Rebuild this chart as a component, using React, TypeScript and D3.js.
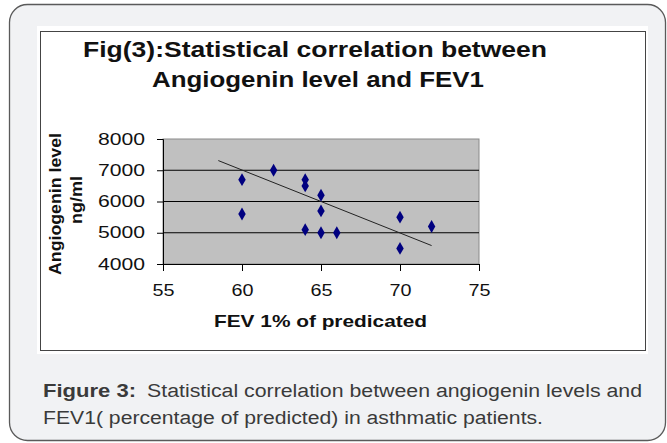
import React, { useEffect, useRef } from 'react'
import * as d3 from 'd3'

// FEV1 % of predicted vs angiogenin (ng/ml)
const fevValues = [60, 60, 62, 64, 64, 64, 65, 65, 65, 66, 70, 70, 72]
const angiogeninValues = [6700, 5600, 7000, 6700, 6500, 5100, 6200, 5700, 5000, 5000, 5500, 4500, 5200]
// trend line end points
const trendFev = [58.5, 72]
const trendAngiogenin = [7310, 4590]
const xTicks = [55, 60, 65, 70, 75]
const yTicks = [4000, 5000, 6000, 7000, 8000]
const gridLines = [5000, 6000, 7000]

const FONT = "'Liberation Sans', Arial, sans-serif"

function App() {
  const ref = useRef<SVGSVGElement>(null)

  useEffect(() => {
    const svg = d3.select(ref.current)
    svg.selectAll('*').remove()

    // outer rounded panel
    svg.append('rect')
      .attr('x', 9.5).attr('y', 4.5).attr('width', 656).attr('height', 436)
      .attr('rx', 18).attr('fill', '#f1f2f4').attr('stroke', '#5a5a5a').attr('stroke-width', 1.3)

    // inner white chart box
    svg.append('rect')
      .attr('x', 37).attr('y', 26).attr('width', 611).attr('height', 328).attr('fill', '#fff')
    svg.append('rect')
      .attr('x', 40.5).attr('y', 31.5).attr('width', 605).attr('height', 319)
      .attr('fill', 'none').attr('stroke', '#444').attr('stroke-width', 1)

    // title
    svg.append('text').attr('x', 83).attr('y', 57)
      .style('font-family', FONT).style('font-size', '22px').style('font-weight', 'bold')
      .attr('fill', '#111').attr('textLength', 464).attr('lengthAdjust', 'spacingAndGlyphs')
      .text('Fig(3):Statistical correlation between')
    svg.append('text').attr('x', 152).attr('y', 87)
      .style('font-family', FONT).style('font-size', '22px').style('font-weight', 'bold')
      .attr('fill', '#111').attr('textLength', 332).attr('lengthAdjust', 'spacingAndGlyphs')
      .text('Angiogenin level and FEV1')

    const margin = { left: 163, top: 139 }
    const w = 316, h = 125
    const x = d3.scaleLinear().domain([55, 75]).range([margin.left, margin.left + w])
    const y = d3.scaleLinear().domain([4000, 8000]).range([margin.top + h, margin.top])

    // plot area
    svg.append('rect')
      .attr('x', margin.left).attr('y', margin.top).attr('width', w).attr('height', h)
      .attr('fill', '#c0c0c0').attr('stroke', '#8a8a8a').attr('stroke-width', 1)

    svg.selectAll('.grid').data(gridLines).join('line').attr('class', 'grid')
      .attr('x1', margin.left).attr('x2', margin.left + w)
      .attr('y1', d => y(d)).attr('y2', d => y(d))
      .attr('stroke', '#000').attr('stroke-width', 1)

    // y axis
    const yAxis = svg.append('g').attr('transform', `translate(${margin.left}, 0)`)
      .call(d3.axisLeft(y).tickValues(yTicks).tickFormat(d3.format('d')).tickSize(6).tickPadding(12))
    yAxis.select('.domain').attr('stroke', '#000')
    yAxis.selectAll('text')
      .style('font-family', FONT).style('font-size', '16px').attr('fill', '#111')
      .attr('textLength', 47).attr('lengthAdjust', 'spacingAndGlyphs')

    // x axis
    const xAxis = svg.append('g').attr('transform', `translate(0, ${margin.top + h})`)
      .call(d3.axisBottom(x).tickValues(xTicks).tickSize(7).tickPadding(14))
    xAxis.select('.domain').attr('stroke', '#000')
    xAxis.selectAll('text')
      .style('font-family', FONT).style('font-size', '16px').attr('fill', '#111')
      .attr('textLength', 22).attr('lengthAdjust', 'spacingAndGlyphs')

    // trend line
    svg.append('line')
      .attr('x1', x(trendFev[0])).attr('y1', y(trendAngiogenin[0]))
      .attr('x2', x(trendFev[1])).attr('y2', y(trendAngiogenin[1]))
      .attr('stroke', '#222').attr('stroke-width', 1)

    // diamond markers
    const diamond = d3.symbol().type(d3.symbolDiamond).size(48)
    svg.selectAll('.pt').data(fevValues).join('path').attr('class', 'pt')
      .attr('d', diamond)
      .attr('transform', (d, i) => `translate(${x(d)}, ${y(angiogeninValues[i])})`)
      .attr('fill', '#000080')

    // axis titles
    svg.append('text').attr('x', 214).attr('y', 327)
      .style('font-family', FONT).style('font-size', '17px').style('font-weight', 'bold')
      .attr('fill', '#111').attr('textLength', 213).attr('lengthAdjust', 'spacingAndGlyphs')
      .text('FEV 1% of predicated')

    svg.append('text').attr('transform', 'translate(61, 204) rotate(-90)')
      .attr('text-anchor', 'middle')
      .style('font-family', FONT).style('font-size', '17px').style('font-weight', 'bold')
      .attr('fill', '#111').attr('textLength', 142).attr('lengthAdjust', 'spacingAndGlyphs')
      .text('Angiogenin level')
    svg.append('text').attr('transform', 'translate(82, 200) rotate(-90)')
      .attr('text-anchor', 'middle')
      .style('font-family', FONT).style('font-size', '17px').style('font-weight', 'bold')
      .attr('fill', '#111').attr('textLength', 48).attr('lengthAdjust', 'spacingAndGlyphs')
      .text('ng/ml')

    // caption
    svg.append('text').attr('x', 43).attr('y', 397)
      .style('font-family', FONT).style('font-size', '18px').style('font-weight', 'bold')
      .attr('fill', '#3a3a3a').attr('textLength', 93).attr('lengthAdjust', 'spacingAndGlyphs')
      .text('Figure  3:')
    svg.append('text').attr('x', 147).attr('y', 397)
      .style('font-family', FONT).style('font-size', '18px')
      .attr('fill', '#3a3a3a').attr('textLength', 495).attr('lengthAdjust', 'spacingAndGlyphs')
      .text('Statistical correlation between angiogenin levels and')
    svg.append('text').attr('x', 43).attr('y', 424)
      .style('font-family', FONT).style('font-size', '18px')
      .attr('fill', '#3a3a3a').attr('textLength', 500).attr('lengthAdjust', 'spacingAndGlyphs')
      .text('FEV1( percentage of predicted) in asthmatic patients.')
  }, [])

  return (
    <svg ref={ref} width={667} height={443}
      style={{ position: 'absolute', left: 0, top: 0, background: '#fff' }} />
  )
}

export default App
